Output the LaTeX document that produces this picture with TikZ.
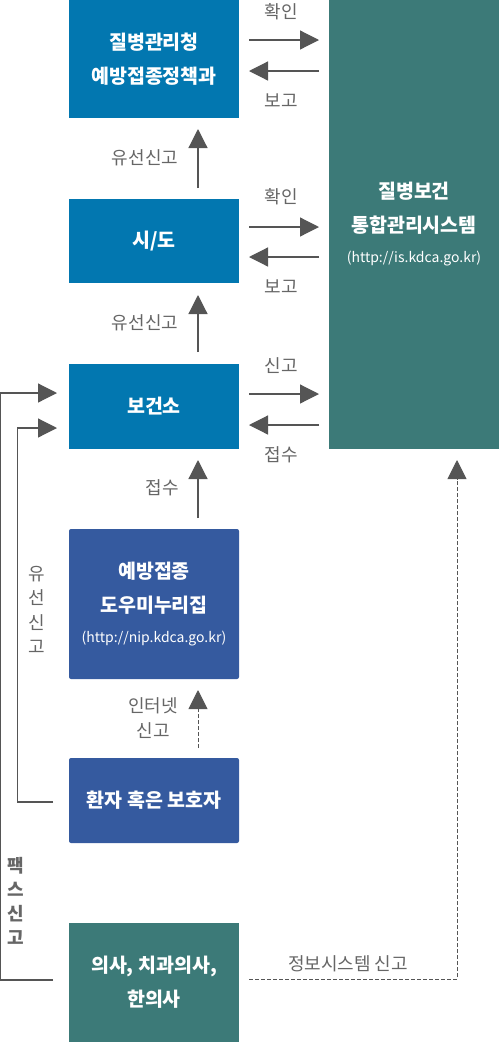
\documentclass[tikz,border=0pt]{standalone}
\usepackage{fontspec}
\setmainfont{Noto Sans CJK KR}
\usetikzlibrary{arrows.meta,calc}
\definecolor{boxblue}{HTML}{0277B0}
\definecolor{boxteal}{HTML}{3C7A78}
\definecolor{boxnavy}{HTML}{355A9F}
\definecolor{linegray}{HTML}{555555}
\definecolor{labgray}{HTML}{666666}
\newcommand\myurlfont{\fontsize{14}{16}\selectfont\mdseries}
\tikzset{
  box/.style={rectangle, inner sep=0pt, outer sep=0pt, anchor=north west, minimum width=170pt, text=white, align=center, font=\fontsize{19.5}{34}\selectfont\bfseries},
  lab/.style={text=labgray, font=\fontsize{18}{25}\selectfont, align=center, inner sep=0pt},
  arr/.style={draw=linegray, line width=1.2pt, -{Triangle[length=19pt,width=19pt]}},
  darr/.style={arr, line width=1pt, dash pattern=on 4pt off 2pt},
}
\begin{document}
\begin{tikzpicture}[x=1pt,y=-1pt]
\useasboundingbox (0,0) rectangle (499,1042);
% boxes
\node[box, fill=boxblue, minimum height=118pt] (b1) at (69,0) {질병관리청\\예방접종정책과};
\node[box, fill=boxblue, minimum height=84pt] (b2) at (69,199) {시/도};
\node[box, fill=boxblue, minimum height=85pt] (b3) at (69,364) {보건소};
\node[box, fill=boxteal, minimum height=449pt] (big) at (329,0) {질병보건\\통합관리시스템\\[-4pt]{\myurlfont (http://is.kdca.go.kr)}};
\node[box, fill=boxnavy, minimum height=150pt, rounded corners=2pt] (b4) at (69,529) {예방접종\\도우미누리집\\[-4pt]{\myurlfont (http://nip.kdca.go.kr)}};
\node[box, fill=boxnavy, minimum height=85pt, rounded corners=2pt] (b5) at (69,758) {환자 혹은 보호자};
\node[box, fill=boxteal, minimum height=119pt] (b6) at (69,923) {의사, 치과의사,\\한의사};
% horizontal arrows
\draw[arr] ($(b1.north east)+(10,40)$) -- ($(big.north west)+(-10,40)$);
\draw[arr] ($(big.north west)+(-10,71)$) -- ($(b1.north east)+(10,71)$);
\draw[arr] ($(b2.north east)+(10,28)$) -- ($(big.north west)+(-10,227)$);
\draw[arr] ($(big.north west)+(-10,257)$) -- ($(b2.north east)+(10,58)$);
\draw[arr] ($(b3.north east)+(10,30)$) -- ($(big.north west)+(-10,394)$);
\draw[arr] ($(big.north west)+(-10,425)$) -- ($(b3.north east)+(10,61)$);
\node[lab] (l1) at (281,12) {확인};
\node[lab] (l2) at (281,101) {보고};
\node[lab] (l3) at (281,197) {확인};
\node[lab] (l4) at (281,287) {보고};
\node[lab] (l5) at (281,366) {신고};
\node[lab] (l6) at (281,455) {접수};
% vertical arrows
\draw[arr] ($(b2.north)+(44,-11)$) -- ($(b1.south)+(44,11)$);
\draw[arr] ($(b3.north)+(44,-12)$) -- ($(b2.south)+(44,12)$);
\draw[arr] ($(b4.north)+(44,-11)$) -- ($(b3.south)+(44,11)$);
\draw[darr] ($(b5.north)+(44,-10)$) -- ($(b4.south)+(44,11)$);
\node[lab] (l7) at (145,158) {유선신고};
\node[lab] (l8) at (145,323) {유선신고};
\node[lab] (l9) at (162,488) {접수};
\node[lab] (l10) at (153,718) {인터넷\\신고};
% left connectors
\draw[arr] ($(b6.north west)+(-16,57)$) -- ++(-52.4,0) |- ($(b3.north west)+(-12,29)$);
\draw[arr] ($(b5.north west)+(-16,44)$) -- ++(-35.5,0) |- ($(b3.north west)+(-12,64)$);
\node[lab, font=\fontsize{18}{24.5}\selectfont] (l11) at (37,610) {유\\선\\신\\고};
\node[lab, font=\fontsize{18}{24}\selectfont\bfseries] (l12) at (16,901) {팩\\스\\신\\고};
% dashed to system
\draw[darr] ($(b6.north east)+(10,56)$) -| ($(big.south west)+(128,11)$);
\node[lab] (l13) at (348,964) {정보시스템 신고};
\end{tikzpicture}
\end{document}
